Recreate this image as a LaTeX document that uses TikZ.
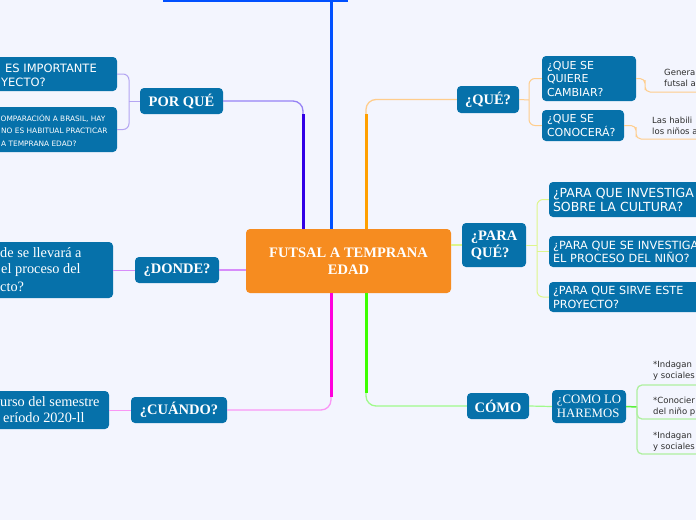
\documentclass[tikz,border=0pt]{standalone}
\usepackage{fontspec}
\setmainfont{Liberation Serif}
\newfontfamily\sansf{DejaVu Sans}
\newcommand{\myfs}[2]{\fontsize{#1}{#2}\selectfont}
\definecolor{bgc}{RGB}{243,245,254}
\definecolor{nodeblue}{RGB}{6,113,170}
\definecolor{centerc}{RGB}{246,140,32}
\definecolor{bluec}{RGB}{0,80,255}
\definecolor{indigoc}{RGB}{50,0,230}
\definecolor{indigolt}{RGB}{150,130,245}
\definecolor{indigopale}{RGB}{180,165,242}
\definecolor{orangec}{RGB}{255,160,0}
\definecolor{orangelt}{RGB}{255,205,140}
\definecolor{magc}{RGB}{255,0,220}
\definecolor{maglt}{RGB}{250,150,245}
\definecolor{greenc}{RGB}{60,255,0}
\definecolor{greenlt}{RGB}{160,250,140}
\definecolor{greenmid}{RGB}{90,240,60}
\definecolor{greenpale}{RGB}{175,240,160}
\definecolor{limelt}{RGB}{222,245,140}
\definecolor{lilac}{RGB}{215,140,250}
\definecolor{leafc}{RGB}{45,45,45}
\tikzset{
 topic/.style={fill=nodeblue, rounded corners=4pt, inner sep=0pt, text=white},
 maint/.style={topic, font=\bfseries\myfs{14.5}{16.5}},
 subt/.style={topic, align=left, inner xsep=5pt, inner ysep=0pt, font=\sansf\myfs{11}{13.5}},
 leaf/.style={inner sep=0pt, anchor=west, align=left, text=leafc, font=\sansf\myfs{8.5}{11}},
 frag/.style={inner sep=0pt, anchor=west, text=white},
 thickc/.style={line width=3pt},
 thinc/.style={line width=1.3pt},
}
\begin{document}
\begin{tikzpicture}[x=1pt,y=-1pt]
\useasboundingbox (0,0) rectangle (696,520);
\fill[bgc] (0,0) rectangle (696,520);
\clip (0,0) rectangle (696,520);

% ---------- nodes ----------
\node[topic, fill=centerc, minimum width=205, minimum height=64, align=center,
      font=\bfseries\myfs{14.5}{17}] (center) at (348.5,261) {FUTSAL A TEMPRANA\\EDAD};

\node[maint, minimum width=83, minimum height=26] (porque) at (181.5,101) {POR QUÉ};
\node[maint, minimum width=62, minimum height=27] (que) at (488,99.5) {¿QUÉ?};
\node[maint, minimum width=64, minimum height=44, align=left, font=\bfseries\myfs{14.5}{17}] (para) at (494,245) {¿PARA\\QUÉ?};
\node[maint, minimum width=84, minimum height=26] (donde) at (177,270) {¿DONDE?};
\node[maint, minimum width=96, minimum height=26] (cuando) at (179,410) {¿CUÁNDO?};
\node[maint, minimum width=62, minimum height=26] (como) at (498,406) {CÓMO};

% left children (partly outside the picture)
\node[topic, minimum width=177, minimum height=34] (pq1) at (28.5,74) {};
\node[frag, font=\sansf\myfs{11.5}{13}] (pq1a) at (5,68) {ES IMPORTANTE};
\node[frag, font=\sansf\myfs{11.5}{13}] (pq1b) at (1,82) {YECTO?};

\node[topic, minimum width=177, minimum height=45] (pq2) at (28.5,129.5) {};
\node[frag, font=\sansf\myfs{7.4}{9}] (pq2a) at (0.5,118) {OMPARACIÓN A BRASIL, HAY};
\node[frag, font=\sansf\myfs{7.4}{9}] (pq2b) at (1,131) {NO ES HABITUAL PRACTICAR};
\node[frag, font=\sansf\myfs{7.4}{9}] (pq2c) at (1,144) {A TEMPRANA EDAD?};

\node[topic, minimum width=173, minimum height=56] (dc) at (26.5,270) {};
\node[frag, font=\myfs{14.3}{16}] (dca) at (0,253) {de se llevará a};
\node[frag, font=\myfs{14.3}{16}] (dcb) at (1,270) {el proceso del};
\node[frag, font=\myfs{14.3}{16}] (dcc) at (0,287) {cto?};

\node[topic, minimum width=169, minimum height=38] (cc) at (24.5,410) {};
\node[frag, font=\myfs{14.3}{16}] (cca) at (0,402) {urso del semestre};
\node[frag, font=\myfs{14.3}{16}] (ccb) at (3,418) {eríodo 2020-ll};

% right children
\node[subt, text width=84, minimum height=45] (qc1) at (589,78.5) {¿QUE SE\\QUIERE\\CAMBIAR?};
\node[subt, text width=72, minimum height=31] (qc2) at (583,125.5) {¿QUE SE\\CONOCERÁ?};

\node[subt, inner xsep=4pt, text width=163, minimum height=35, font=\sansf\myfs{12.5}{14}] (pc1) at (634.5,199.5) {¿PARA QUE INVESTIGA\\SOBRE LA CULTURA?};
\node[subt, inner xsep=4pt, text width=163, minimum height=31, font=\sansf\myfs{11.3}{13}] (pc2) at (634.5,251.5) {¿PARA QUE SE INVESTIGA\\EL PROCESO DEL NIÑO?};
\node[subt, inner xsep=4pt, text width=163, minimum height=30, font=\sansf\myfs{11.2}{14}] (pc3) at (634.5,297) {¿PARA QUE SIRVE ESTE\\PROYECTO?};

\node[topic, minimum width=74, minimum height=33, align=left, font=\myfs{12.8}{13.5}] (haremos) at (589,406.5) {¿COMO LO\\HAREMOS};

% leaves
\node[leaf] (g1) at (664,78) {Genera\\futsal a};
\node[leaf] (g2) at (652,126) {Las habili\\los niños a};
\node[leaf] (h1) at (653,371) {*Indagan\\y sociales};
\node[leaf] (h2) at (653,406.5) {*Conocier\\del niño p};
\node[leaf] (h3) at (653,441.5) {*Indagan\\y sociales};

% ---------- coordinates ----------
\coordinate (bx) at (331,0);
\coordinate (tl) at (163,0.8);
\coordinate (tr) at (348,0.8);
\coordinate (ibend) at (303,114);
\coordinate (obend) at (366,114);
\coordinate (mbend) at (331,397);
\coordinate (gbend) at (366,393);
\coordinate (pj) at (129,101);
\coordinate (qj) at (529,100);
\coordinate (g1c) at (645,85);
\coordinate (g1u) at (700,92);
\coordinate (g2c) at (636,132);
\coordinate (g2u) at (700,139);
\coordinate (pj2) at (537,245);
\coordinate (hj) at (637,407);
\coordinate (hu1) at (700,385);
\coordinate (hu2) at (700,419);
\coordinate (hu3) at (700,454);

% ---------- main connectors ----------
\draw[thickc, bluec] (center.north -| bx) -- (bx);
\draw[line width=2pt, bluec] (tl) -- (tr);

\draw[thinc, indigolt, rounded corners=10pt] (center.north -| ibend) |- (porque.east);
\draw[thickc, indigoc] (center.north -| ibend) -- (ibend);

\draw[thinc, orangelt, rounded corners=10pt] (center.north -| obend) |- (que.west);
\draw[thickc, orangec] (center.north -| obend) -- (obend);

\draw[thinc, maglt, rounded corners=10pt] (center.south -| mbend) |- (cuando.east);
\draw[thickc, magc] (center.south -| mbend) -- (mbend);

\draw[thinc, greenlt, rounded corners=10pt] (center.south -| gbend) |- (como.west);
\draw[thickc, greenc] (center.south -| gbend) -- (gbend);

\draw[thinc, limelt] (para.west -| center.east) -- (para.west);
\draw[thinc, lilac] (donde.east -| center.west) -- (donde.east);

% ---------- second level ----------
\draw[line width=1pt, indigopale, rounded corners=6pt] (pq1.east) -| (pj) |- (pq2.east);
\draw[line width=1pt, indigopale] (porque.west) -- (pj);

\draw[line width=1pt, orangelt, rounded corners=6pt] (qc1.west) -| (qj) |- (qc2.west);
\draw[line width=1pt, orangelt] (que.east) -- (qj);
\draw[line width=1pt, orangelt, rounded corners=5pt] (qc1.east) -| (g1c) |- (g1u);
\draw[line width=1pt, orangelt, rounded corners=5pt] (qc2.east) -| (g2c) |- (g2u);

\draw[line width=1pt, limelt, rounded corners=6pt] (pc1.west) -| (pj2) |- (pc3.west);
\draw[line width=1pt, limelt] (para.east) -- (pj2);
\draw[line width=1pt, limelt] (pc2.west -| pj2) -- (pc2.west);

\draw[line width=1pt, lilac] (donde.west) -- (dc.east);
\draw[line width=1pt, maglt] (cuando.west) -- (cc.east);

\draw[line width=1.2pt, greenlt] (como.east) -- (haremos.west);
\draw[line width=1.5pt, greenmid] (haremos.east) -- (hj);
\draw[line width=1.3pt, greenpale, rounded corners=5pt] (hu1) -| (hj) |- (hu3);
\draw[line width=1.3pt, greenpale, rounded corners=5pt] (hj) |- (hu2);
\end{tikzpicture}
\end{document}
